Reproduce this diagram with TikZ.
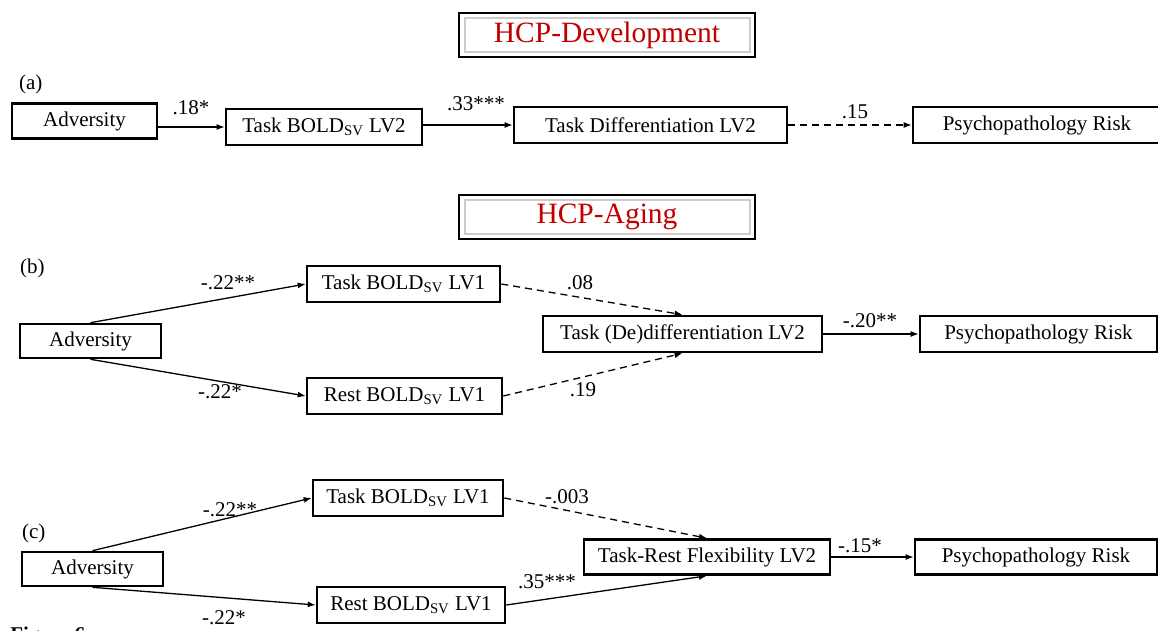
\documentclass[tikz,border=0pt]{standalone}
\usepackage{fontspec}
\setmainfont{Liberation Serif}
\usepackage{tikz}
\usetikzlibrary{arrows.meta, positioning, calc}
\definecolor{titlered}{HTML}{C00000}
\tikzset{
  varbox/.style={draw, line width=1.3pt, inner sep=0pt, minimum height=18pt},
  effect/.style={-{Latex[length=4pt,width=3pt]}, line width=0.65pt},
  nseffect/.style={effect, dash pattern=on 3.5pt off 2.5pt},
  coef/.style={inner sep=0pt},
}

\begin{document}
\begin{tikzpicture}[x=0.5pt,y=-0.5pt,font=\fontsize{10.5}{12}\selectfont]
\useasboundingbox (0,0) rectangle (1158,631);

% titles
\foreach \ty/\tname/\ttext in {35/tdev/HCP-Development, 217/tage/HCP-Aging} {
  \draw[gray!40, line width=0.9pt] (465,\ty-17) rectangle (750,\ty+17);
  \node[draw, line width=1.4pt, minimum width=148pt, minimum height=22pt,
        text=titlered, font=\fontsize{14.75}{17}\selectfont] (\tname) at (607,\ty) {\ttext};
}

% (a)
\node[anchor=west] (laba) at (12,84) {(a)};
\node[varbox, minimum width=72.5pt, minimum height=17.5pt] (advA) at (84.5,121) {Adversity};
\node[varbox, minimum width=98pt] (boldA) at (324,127) {Task BOLD\textsubscript{SV} LV2};
\node[varbox, minimum width=136.5pt] (diffA) at (650.5,125) {Task Differentiation LV2};
\node[varbox, minimum width=124pt] (riskA) at (1037,125) {Psychopathology Risk};
\draw[effect] (advA.east |- boldA.west) -- (boldA.west);
\draw[effect] (boldA.east |- diffA.west) -- (diffA.west);
\draw[nseffect] (diffA.east) -- (riskA.west);
\node[coef] (cA1) at (191,108) {.18*};
\node[coef] (cA2) at (476,104) {.33***};
\node[coef] (cA3) at (855,112) {.15};

% (b)
\node[anchor=west] (labb) at (13,268) {(b)};
\node[varbox, minimum width=70.5pt, minimum height=17pt] (advB) at (90.5,341) {Adversity};
\node[varbox, minimum width=96.5pt] (boldB) at (403.5,284) {Task BOLD\textsubscript{SV} LV1};
\node[varbox, minimum width=97.5pt] (restB) at (404.5,396) {Rest BOLD\textsubscript{SV} LV1};
\node[varbox, minimum width=139.5pt] (dediffB) at (682.5,334) {Task (De)differentiation LV2};
\node[varbox, minimum width=118.5pt] (riskB) at (1038.5,334) {Psychopathology Risk};
\draw[effect] (advB.north) -- (boldB.west);
\draw[effect] (advB.south) -- (restB.west);
\draw[nseffect] (boldB.east) -- (dediffB.north);
\draw[nseffect] (restB.east) -- (dediffB.south);
\draw[effect] (dediffB.east) -- (riskB.west);
\node[coef] (cB1) at (228,283) {-.22**};
\node[coef] (cB2) at (220,392) {-.22*};
\node[coef] (cB3) at (580,283) {.08};
\node[coef] (cB4) at (583,390) {.19};
\node[coef] (cB5) at (870,321) {-.20**};

% (c)
\node[anchor=west] (labc) at (15,533) {(c)};
\node[varbox, minimum width=70.5pt, minimum height=17pt] (advC) at (92.5,569) {Adversity};
\node[varbox, minimum width=95pt] (boldC) at (408,498) {Task BOLD\textsubscript{SV} LV1};
\node[varbox, minimum width=94pt] (restC) at (411,605) {Rest BOLD\textsubscript{SV} LV1};
\node[varbox, minimum width=123pt, minimum height=17.5pt] (flexC) at (707,557) {Task-Rest Flexibility LV2};
\node[varbox, minimum width=121pt, minimum height=17.5pt] (riskC) at (1036,557) {Psychopathology Risk};
\draw[effect] (advC.north) -- (boldC.west);
\draw[effect] (advC.south) -- (restC.west);
\draw[nseffect] (boldC.east) -- (flexC.north);
\draw[effect] (restC.east) -- (flexC.south);
\draw[effect] (flexC.east) -- (riskC.west);
\node[coef] (cC1) at (230,510) {-.22**};
\node[coef] (cC2) at (224,618) {-.22*};
\node[coef] (cC3) at (567,497) {-.003};
\node[coef] (cC4) at (547,582) {.35***};
\node[coef] (cC5) at (860,546) {-.15*};

\node[anchor=north west, inner sep=0pt, font=\fontsize{10.5}{12}\selectfont\bfseries] (fig) at (10,627) {Figure 6};
\end{tikzpicture}
\end{document}
